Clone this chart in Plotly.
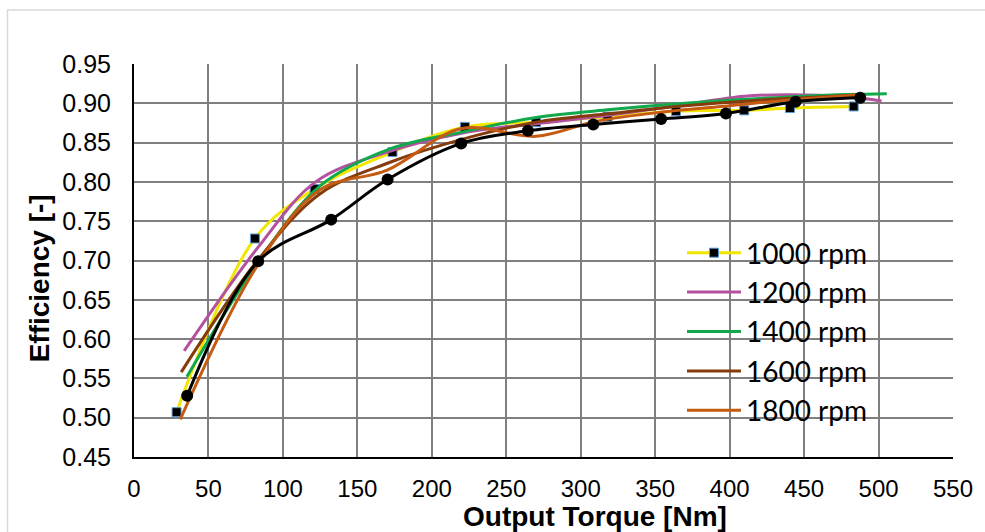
import plotly.graph_objects as go

# ---- data ----
t_1000 = [28.6, 81.2, 121.3, 173.6, 222.2, 270, 318, 364, 409.8, 440.5, 483.3]
e_1000 = [0.507, 0.728, 0.791, 0.838, 0.870, 0.876, 0.883, 0.890, 0.891, 0.894, 0.896]

t_1200 = [33.7, 83, 122, 170, 220, 270, 320, 365, 410, 440, 480, 502]
e_1200 = [0.585, 0.716, 0.800, 0.838, 0.862, 0.874, 0.885, 0.897, 0.909, 0.911, 0.908, 0.903]

t_1400 = [35.5, 83, 125, 172, 222, 270, 320, 370, 420, 460, 505.5]
e_1400 = [0.552, 0.697, 0.795, 0.842, 0.864, 0.882, 0.892, 0.900, 0.906, 0.910, 0.912]

t_1600 = [31.7, 83, 125, 172, 222, 270, 320, 370, 420, 460, 488]
e_1600 = [0.558, 0.700, 0.785, 0.825, 0.855, 0.876, 0.887, 0.897, 0.904, 0.908, 0.911]

t_1800 = [31.1, 83, 125, 170, 220, 270, 310, 355, 400, 445, 488]
e_1800 = [0.498, 0.694, 0.790, 0.815, 0.868, 0.858, 0.877, 0.889, 0.897, 0.905, 0.911]

t_ref = [35.7, 83.4, 132.4, 170.3, 219.7, 264.5, 308.4, 354, 397.5, 444.3, 487.7]
e_ref = [0.528, 0.699, 0.752, 0.803, 0.849, 0.865, 0.873, 0.880, 0.887, 0.902, 0.907]

series_names = ["1000 rpm", "1200 rpm", "1400 rpm", "1600 rpm", "1800 rpm"]
series_colors = ["#F2E600", "#B4519F", "#12A84C", "#843C0C", "#C55A11"]

x_ticks = list(range(0, 551, 50))
y_ticks = [round(0.45 + 0.05 * i, 2) for i in range(11)]

fig = go.Figure()

xs = [t_1000, t_1200, t_1400, t_1600, t_1800]
ys = [e_1000, e_1200, e_1400, e_1600, e_1800]
for i, (name, col) in enumerate(zip(series_names, series_colors)):
    if i == 0:
        fig.add_trace(go.Scatter(
            x=xs[i], y=ys[i], name=name, mode="lines+markers",
            line=dict(color=col, width=3, shape="spline", smoothing=1.0),
            marker=dict(symbol="square", size=9, color="black",
                        line=dict(color="#5B9BD5", width=1)),
        ))
    else:
        fig.add_trace(go.Scatter(
            x=xs[i], y=ys[i], name=name, mode="lines",
            line=dict(color=col, width=3, shape="spline", smoothing=1.0),
        ))

fig.add_trace(go.Scatter(
    x=t_ref, y=e_ref, mode="lines+markers", showlegend=False,
    line=dict(color="black", width=3, shape="spline", smoothing=1.0),
    marker=dict(symbol="circle", size=12, color="black"),
))

L, R, T, B = 134, 29, 64, 75
W, H = 985, 532
pw, ph = W - L - R, H - T - B

def px(x):
    return (x - L) / pw

def py(y):
    return (H - B - y) / ph

fig.update_layout(
    width=W, height=H,
    margin=dict(l=L, r=R, t=T, b=B, pad=0),
    paper_bgcolor="white", plot_bgcolor="white",
    font=dict(family="Liberation Sans, Arial, sans-serif", size=24, color="black"),
    showlegend=True,
    legend=dict(
        x=px(684), y=py(228), xanchor="left", yanchor="top",
        bgcolor="rgba(0,0,0,0)", borderwidth=0,
        font=dict(family="Lato, sans-serif", size=28, color="black"),
        itemwidth=54, tracegroupgap=0,
    ),
    xaxis=dict(
        range=[0, 550], tickvals=x_ticks, ticktext=[str(v) for v in x_ticks],
        showgrid=True, gridcolor="#7F7F7F", gridwidth=2,
        showline=True, linecolor="black", linewidth=2,
        zeroline=False, ticks="", ticklabelstandoff=9,
        tickfont=dict(size=24),
    ),
    yaxis=dict(
        range=[0.45, 0.95], tickvals=y_ticks, ticktext=[f"{v:.2f}" for v in y_ticks],
        showgrid=True, gridcolor="#7F7F7F", gridwidth=2,
        showline=True, linecolor="black", linewidth=2,
        zeroline=False, ticks="", ticklabelstandoff=16,
        tickfont=dict(size=25),
    ),
    shapes=[dict(
        type="rect", xref="paper", yref="paper",
        x0=px(7), y0=py(545), x1=px(995), y1=py(10),
        line=dict(color="#D9D9D9", width=1.5), fillcolor="rgba(0,0,0,0)", layer="below",
    )],
    annotations=[
        dict(text="<b>Output Torque [Nm]</b>", xref="paper", yref="paper",
             x=px(597), y=py(516), xanchor="center", yanchor="middle",
             showarrow=False, font=dict(size=28, family="Liberation Sans, Arial, sans-serif")),
        dict(text="<b>Efficiency [-]</b>", xref="paper", yref="paper",
             x=px(39), y=py(278), xanchor="center", yanchor="middle", textangle=-90,
             showarrow=False, font=dict(size=28, family="Liberation Sans, Arial, sans-serif")),
    ],
)

fig.write_html("out.html")
